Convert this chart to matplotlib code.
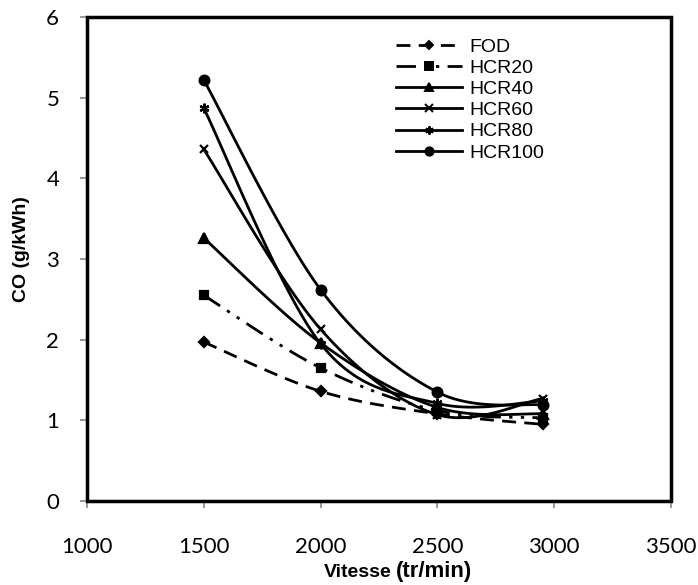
import numpy as np
import matplotlib
matplotlib.use("Agg")
import matplotlib.pyplot as plt
from matplotlib.patches import Rectangle

# Engine speed (tr/min) and CO emissions (g/kWh) per fuel blend
vitesse = [1500, 2000, 2500, 2950]
fod = [1.97, 1.36, 1.08, 0.95]
hcr20 = [2.55, 1.65, 1.12, 1.03]
hcr40 = [3.26, 1.96, 1.16, 1.08]
hcr60 = [4.36, 2.13, 1.07, 1.27]
hcr80 = [4.87, 1.95, 1.21, 1.24]
hcr100 = [5.22, 2.62, 1.35, 1.19]

x_ticks = [1000, 1500, 2000, 2500, 3000, 3500]
y_ticks = [0, 1, 2, 3, 4, 5, 6]


def smooth(xs, ys, n=40):
    """Catmull-Rom curve through the given points (spreadsheet-style smoothed line)."""
    p = np.column_stack([xs, ys]).astype(float)
    p = np.vstack([p[0], p, p[-1]])
    out = []
    for i in range(1, len(p) - 2):
        p0, p1, p2, p3 = p[i - 1], p[i], p[i + 1], p[i + 2]
        t = np.linspace(0, 1, n)[:, None]
        c1 = p1 + (p2 - p0) / 6.0
        c2 = p2 - (p3 - p1) / 6.0
        seg = ((1 - t) ** 3) * p1 + 3 * ((1 - t) ** 2) * t * c1 + 3 * (1 - t) * t ** 2 * c2 + t ** 3 * p2
        out.append(seg if i == 1 else seg[1:])
    s = np.vstack(out)
    return s[:, 0], s[:, 1]


plt.rcParams['font.family'] = ['Liberation Sans', 'DejaVu Sans']

fig = plt.figure(figsize=(6.98, 5.85), dpi=100)
ax = fig.add_axes([0.1246, 0.1436, 0.8367, 0.8273])

series = [
    ("FOD", fod, (0, (5, 3)), "D", 5),
    ("HCR20", hcr20, (0, (7, 3, 1.2, 3, 1.2, 3)), "s", 6),
    ("HCR40", hcr40, "-", "^", 7),
    ("HCR60", hcr60, "-", "x", 6),
    ("HCR80", hcr80, "-", (6, 2, 0), 7),
    ("HCR100", hcr100, "-", "o", 7),
]

for name, vals, ls, mk, ms in series:
    sx, sy = smooth(vitesse, vals)
    ax.plot(sx, sy, color="black", lw=2, linestyle=ls, zorder=3)
    ax.plot(vitesse, vals, linestyle="none", marker=mk, markersize=ms,
            color="black", markeredgewidth=1.6, zorder=4)
    # legend proxy with smaller marker
    ax.plot([], [], color="black", lw=2, linestyle=ls, marker=mk,
            markersize=ms * 0.85, markeredgewidth=1.4, label=name)

ax.set_xlim(1000, 3500)
ax.set_ylim(0, 6)
ax.set_xticks(x_ticks)
ax.set_yticks(y_ticks)

for sp in ["top", "right"]:
    ax.spines[sp].set_visible(False)
for sp in ["left", "bottom"]:
    ax.spines[sp].set_color("#888888")
    ax.spines[sp].set_linewidth(1.5)
ax.add_patch(Rectangle((0, 0), 1, 1, transform=ax.transAxes, fill=False,
                       edgecolor="black", lw=2.5, zorder=5, clip_on=False))

ax.tick_params(axis="both", direction="out", length=5, width=1.2,
               color="#888888", labelsize=16)
for lab in ax.get_xticklabels() + ax.get_yticklabels():
    lab.set_fontfamily("Lato")
ax.tick_params(axis="x", pad=21)
ax.tick_params(axis="y", pad=15)

ax.set_ylabel("CO (g/kWh)", fontsize=14, fontweight="bold")
ax.yaxis.set_label_coords(-0.098, 0.52)
fig.text(0.561, 0.014, "Vitesse", fontsize=14, fontweight="bold",
         ha="right", va="baseline")
fig.text(0.567, 0.014, "(tr/min)", fontsize=16, fontweight="bold",
         ha="left", va="baseline")

leg = ax.legend(loc="upper left", bbox_to_anchor=(0.515, 0.972), frameon=False,
                fontsize=14, handlelength=3.4, handletextpad=0.4,
                labelspacing=0.18, borderaxespad=0)

fig.savefig("out.png", dpi=100)
